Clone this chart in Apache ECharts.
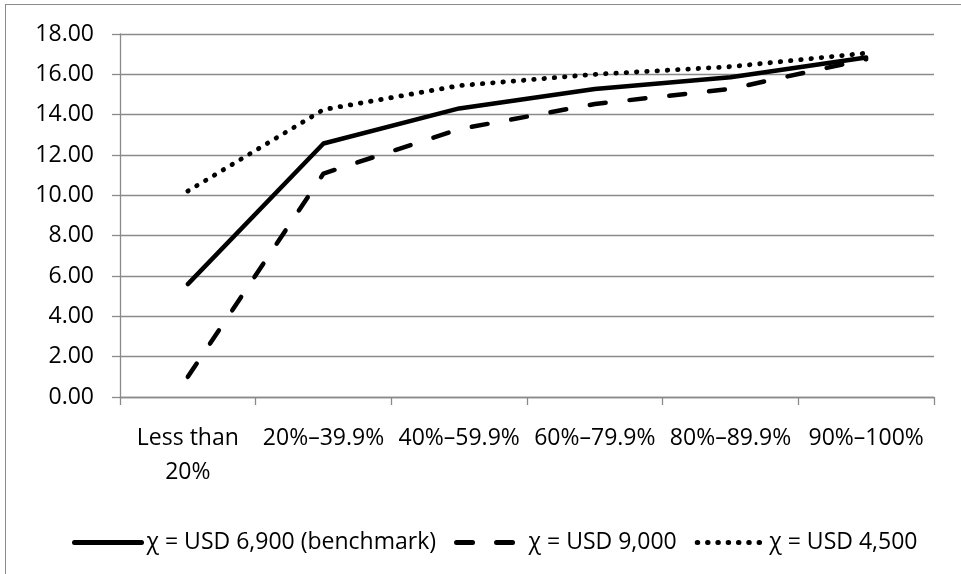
<!DOCTYPE html>
<html>
<head>
<meta charset="utf-8">
<script src="https://cdn.jsdelivr.net/npm/echarts@6/dist/echarts.min.js"></script>
<style>
html,body{margin:0;padding:0;background:#fff;}
#frame{position:absolute;left:5px;top:4px;width:970px;height:590px;border:1.5px solid #8a8a8a;box-sizing:border-box;}
#chart{position:absolute;left:0;top:0;width:961px;height:574px;}
</style>
</head>
<body>
<div id="frame"></div>
<div id="chart"></div>
<script>
const categories = ["Less than\n20%", "20%–39.9%", "40%–59.9%", "60%–79.9%", "80%–89.9%", "90%–100%"];
const seriesNames = ["χ = USD 6,900 (benchmark)", "χ = USD 9,000", "χ = USD 4,500"];
const benchmark = [5.60, 12.57, 14.31, 15.27, 15.86, 16.83];
const usd9000 = [1.00, 11.08, 13.28, 14.53, 15.28, 16.75];
const usd4500 = [10.21, 14.25, 15.44, 16.00, 16.38, 17.05];
const yTicks = {min: 0, max: 18, interval: 2};

const FONT = "'Open Sans', 'Noto Sans', sans-serif";
const GRID = '#8a8a8a';
const FS = 23;
const chart = echarts.init(document.getElementById('chart'), null, {renderer: 'canvas'});
chart.setOption({
  animation: false,
  backgroundColor: 'transparent',
  textStyle: {fontFamily: FONT, color: '#000'},
  grid: {left: 120, right: 27, top: 34, bottom: 177, containLabel: false},
  legend: {
    left: 67, top: 526,
    itemWidth: 67, itemHeight: 14, itemGap: 18,
    itemStyle: {opacity: 0},
    lineStyle: {width: 5, cap: 'round'},
    textStyle: {fontFamily: FONT, fontSize: FS, color: '#000'},
    data: seriesNames
  },
  xAxis: {
    type: 'category',
    data: categories,
    boundaryGap: true,
    axisLine: {show: true, lineStyle: {color: GRID, width: 1.3}},
    axisTick: {show: true, length: 8, lineStyle: {color: GRID, width: 1.3}},
    axisLabel: {fontFamily: FONT, fontSize: FS, color: '#000', margin: 24, lineHeight: 34, interval: 0}
  },
  yAxis: {
    type: 'value',
    min: yTicks.min, max: yTicks.max, interval: yTicks.interval,
    axisLine: {show: true, lineStyle: {color: GRID, width: 1.3}},
    axisTick: {show: true, length: 8, lineStyle: {color: GRID, width: 1.3}},
    splitLine: {show: true, lineStyle: {color: GRID, width: 1.3}},
    axisLabel: {fontFamily: FONT, fontSize: FS, color: '#000', margin: 26, formatter: v => v.toFixed(2)}
  },
  series: [
    {name: seriesNames[0], type: 'line', data: benchmark, symbol: 'none',
     lineStyle: {color: '#000', width: 4.5, type: 'solid', cap: 'round', join: 'round'},
     itemStyle: {color: '#000'}},
    {name: seriesNames[1], type: 'line', data: usd9000, symbol: 'none',
     lineStyle: {color: '#000', width: 4.5, type: [16, 24], cap: 'round', join: 'round'},
     itemStyle: {color: '#000'}},
    {name: seriesNames[2], type: 'line', data: usd4500, symbol: 'none',
     lineStyle: {color: '#000', width: 4.8, type: [0.5, 9.8], cap: 'round', join: 'round'},
     itemStyle: {color: '#000'}}
  ]
});
</script>
</body>
</html>
